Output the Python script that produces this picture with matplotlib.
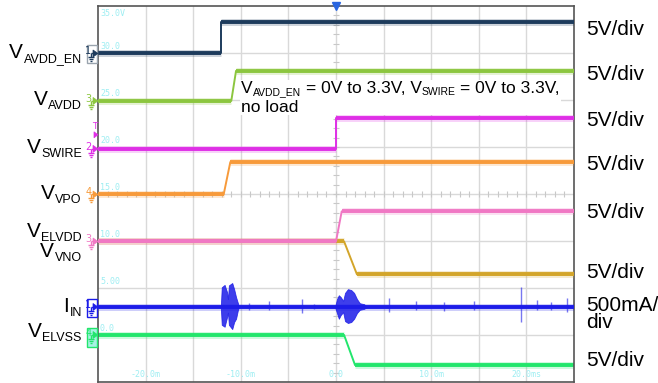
import numpy as np
import matplotlib
matplotlib.use("Agg")
import matplotlib.pyplot as plt
from matplotlib.transforms import Affine2D, ScaledTranslation, IdentityTransform
from matplotlib.patches import Polygon, Rectangle
from matplotlib.collections import LineCollection

plt.rcParams['font.family'] = ['Liberation Sans', 'DejaVu Sans']

# ---- screen scales ----
t_min, t_max = -25.0, 25.0          # ms, 5 ms/div
y_min, y_max = -5.0, 35.0           # screen volts, 5 V/div
x_grid_labels = ["-20.0m", "-10.0m", "0.0", "10.0m", "20.0ms"]
x_grid_label_pos = [-20.0, -10.0, 0.0, 10.0, 20.0]
y_grid_labels = ["35.0V", "30.0", "25.0", "20.0", "15.0", "10.0", "5.00", "0.0"]
y_grid_label_pos = [35.0, 30.0, 25.0, 20.0, 15.0, 10.0, 5.0, 0.0]

# ---- waveform breakpoints (time in ms, level in V) ----
avdd_en_t = [-25.0, -12.1, -12.1, 25.0]
avdd_en_v = [0.0, 0.0, 3.3, 3.3]
avdd_t = [-25.0, -11.0, -10.5, 25.0]
avdd_v = [0.0, 0.0, 3.2, 3.2]
swire_t = [-25.0, 0.0, 0.0, 25.0]
swire_v = [0.0, 0.0, 3.3, 3.3]
vpo_t = [-25.0, -11.8, -11.1, 25.0]
vpo_v = [0.0, 0.0, 3.45, 3.45]
elvdd_t = [-25.0, 0.0, 0.6, 25.0]
elvdd_v = [0.0, 0.0, 3.2, 3.2]
vno_t = [-25.0, 0.85, 2.2, 25.0]
vno_v = [0.0, 0.0, -3.5, -3.5]
elvss_t = [-25.0, 0.85, 2.0, 25.0]
elvss_v = [0.0, 0.0, -3.2, -3.2]

# input current (mA): baseline, two ringing bursts and isolated spikes
iin_t = [-25.0, 25.0]
iin_ma = [0.0, 0.0]
burst1_t = [-12.1, -12.0, -11.7, -11.45, -11.35, -11.25, -10.9, -10.7, -10.5, -10.3, -10.2]
burst1_hi = [0, 210, 235, 160, 85, 230, 255, 190, 105, 40, 0]
burst1_lo = [0, 190, 210, 110, 60, 190, 235, 160, 125, 30, 0]
burst2_t = [-0.1, 0.1, 0.3, 0.5, 0.75, 0.95, 1.25, 1.6, 1.9, 2.2, 2.5, 2.95, 3.25]
burst2_hi = [0, 85, 125, 105, 65, 150, 190, 180, 150, 85, 40, 30, 0]
burst2_lo = [0, 65, 125, 85, 55, 150, 170, 160, 125, 65, 30, 20, 0]
spike_t = [-9.1, -7.0, -3.6, -2.3, 5.6, 8.4, 11.3, 14.5, 19.4, 21.1, 22.6, 24.3]
spike_up = [40, 65, 85, 30, 95, 65, 55, 65, 210, 75, 55, 95]
spike_dn = [30, 30, 65, 20, 55, 30, 40, 30, 160, 30, 30, 55]

# ---- channel positions on screen (V) and colours ----
off_avdd_en, off_avdd, off_swire, off_vpo = 29.95, 24.9, 19.8, 14.95
off_elvdd, off_vno, off_iin, off_elvss = 9.95, 9.95, 2.98, 0.0
swire_trigger_level = 1.5           # V
iin_scale = 5.0 / 500.0             # screen V per mA (500 mA/div)

c_avdd_en = "#1d3b5c"
c_avdd = "#8cc63f"
c_swire = "#df2fe6"
c_vpo = "#f79a3a"
c_elvdd = "#f078c4"
c_vno = "#d3a52a"
c_iin = "#1c1ce8"
c_elvss = "#22e66c"
c_grid = "#d9d9d9"
c_gridtxt = "#9eeef2"

W, H = 658, 383
fig = plt.figure(figsize=(W / 100, H / 100), dpi=100)
ax = fig.add_axes([98 / W, 1 - 382 / H, 476 / W, 376 / H])
ax.set_xlim(t_min, t_max)
ax.set_ylim(y_min, y_max)
ax.set_xticks([])
ax.set_yticks([])
for sp in ax.spines.values():
    sp.set_color("#555555")
    sp.set_linewidth(1.2)
renderer = fig.canvas.get_renderer()

# graticule
for xg in np.arange(t_min + 5, t_max, 5.0):
    ax.axvline(xg, color=c_grid, lw=1.0, zorder=0)
for yg in np.arange(y_min + 5, y_max, 5.0):
    ax.axhline(yg, color=c_grid, lw=1.0, zorder=0)
ax.plot(np.arange(t_min + 1, t_max, 1.0), np.full(49, 15.0), ls="none",
        marker="|", ms=4, mew=0.8, color="#c8c8c8", zorder=0)
ax.plot(np.zeros(39), np.arange(y_min + 1, y_max, 1.0), ls="none",
        marker="_", ms=4, mew=0.8, color="#c8c8c8", zorder=0)

# grid labels
mono = dict(family="DejaVu Sans Mono", fontsize=6, color=c_gridtxt, zorder=1)
for lab, yv in zip(y_grid_labels, y_grid_label_pos):
    if yv == y_max:
        ax.annotate(lab, (t_min, yv), xytext=(2, -3), textcoords="offset pixels",
                    ha="left", va="top", **mono)
    else:
        ax.annotate(lab, (t_min, yv), xytext=(2, 2), textcoords="offset pixels",
                    ha="left", va="bottom", **mono)
for lab, xv in zip(x_grid_labels, x_grid_label_pos):
    ax.annotate(lab, (xv, y_min), xytext=(0, 3), textcoords="offset pixels",
                ha="center", va="bottom", **mono)


def draw_trace(t, v, off, color, z, scale=1.0):
    t = np.asarray(t, float)
    y = off + np.asarray(v, float) * scale
    ax.plot(t, y, color=color, lw=1.4, zorder=z)
    flat = np.isclose(y[:-1], y[1:])
    for i in np.where(flat)[0]:
        ax.plot(t[i:i + 2], y[i:i + 2], color=color, lw=5, alpha=0.22,
                solid_capstyle="butt", zorder=z)
        ax.plot(t[i:i + 2], y[i:i + 2], color=color, lw=2.8,
                solid_capstyle="butt", zorder=z)


# traces
draw_trace(elvss_t, elvss_v, off_elvss, c_elvss, 2)
draw_trace(iin_t, iin_ma, off_iin, c_iin, 3, iin_scale)
for bt, bh, bl in [(burst1_t, burst1_hi, burst1_lo), (burst2_t, burst2_hi, burst2_lo)]:
    bt = np.asarray(bt, float)
    ax.fill_between(bt, off_iin + np.asarray(bh) * iin_scale,
                    off_iin - np.asarray(bl) * iin_scale,
                    color=c_iin, lw=0.6, alpha=0.85, zorder=3)
ax.vlines(spike_t, off_iin - np.asarray(spike_dn) * iin_scale,
          off_iin + np.asarray(spike_up) * iin_scale,
          color=c_iin, lw=1.0, alpha=0.6, zorder=3)
draw_trace(vno_t, vno_v, off_vno, c_vno, 4)
draw_trace(elvdd_t, elvdd_v, off_elvdd, c_elvdd, 5)
draw_trace(vpo_t, vpo_v, off_vpo, c_vpo, 6)
draw_trace(swire_t, swire_v, off_swire, c_swire, 7)
draw_trace(avdd_t, avdd_v, off_avdd, c_avdd, 8)
draw_trace(avdd_en_t, avdd_en_v, off_avdd_en, c_avdd_en, 9)

# trigger position marker at top
ax.plot([0.0], [y_max], marker="v", ms=6, color="#2a66e0", clip_on=False, zorder=12)


def anchor(yv):
    # pixel coordinates relative to the left screen edge at level yv
    return Affine2D() + ScaledTranslation(0.0, yv, ax.get_yaxis_transform())


def channel_marker(yv, num, color, box=None):
    tr = anchor(yv)
    if box is not None:
        ec, fc, top, bot = box
        ax.add_patch(Rectangle((-11, bot), 10, top - bot, transform=tr,
                               fc=fc, ec=ec, lw=1.0, clip_on=False, zorder=10))
    ax.add_patch(Polygon([(-5, 3.5), (0, 0), (-5, -3.5)], closed=True, fc=color,
                         ec=color, lw=0.5, transform=tr, clip_on=False, zorder=11))
    segs = [[(-7, 0), (-4, 0)], [(-7, 0), (-7, -4)], [(-10, -4), (-4, -4)],
            [(-9, -6), (-5, -6)], [(-8, -8), (-6, -8)]]
    ax.add_collection(LineCollection(segs, colors=color, lw=1.0, transform=tr,
                                     clip_on=False, zorder=11))
    ax.text(-9.5, -1, num, transform=tr, fontsize=7, color=color, ha="center",
            va="baseline", family="DejaVu Sans", clip_on=False, zorder=11)


channel_marker(off_avdd_en, "1", c_avdd_en, box=("#9aa4ae", "none", 8.5, -9.5))
channel_marker(off_avdd, "3", c_avdd)
channel_marker(off_swire, "2", c_swire)
channel_marker(off_vpo, "4", c_vpo)
channel_marker(off_elvdd, "3", c_elvdd)
channel_marker(off_iin, "1", c_iin, box=(c_iin, "none", 8, -10))
channel_marker(off_elvss, "4", c_elvss, box=(c_elvss, "#a8f2e4", 7, -12))

# trigger level marker on the SWIRE channel
trg = anchor(off_swire + swire_trigger_level)
ax.add_patch(Polygon([(-4, 3), (0, 0), (-4, -3)], closed=True, fc=c_swire, ec=c_swire,
                     lw=0.5, transform=trg, clip_on=False, zorder=11))
ax.text(-3, 6, "T", transform=trg, fontsize=6.5, color=c_swire, ha="center",
        va="baseline", family="DejaVu Sans", clip_on=False, zorder=11)


def rich_text(x, y, pieces, ha="left", zorder=20):
    """Draw a run of text pieces (text, size, baseline shift px, gap px)
    starting (or ending) at display point (x, y)."""
    arts = []
    for s, size, dy, gap in pieces:
        t = fig.text(0, 0, s, fontsize=size, transform=IdentityTransform(),
                     ha="left", va="baseline", color="black", zorder=zorder)
        arts.append((t, dy, gap, t.get_window_extent(renderer).width))
    total = sum(w + g for _, _, g, w in arts)
    x0 = x - total if ha == "right" else x
    for t, dy, gap, w in arts:
        x0 += gap
        t.set_position((x0, y + dy))
        x0 += w
    return x - total if ha == "right" else x, total


def to_px(xv, yv, trans):
    return trans.transform((xv, yv))


ytr = ax.get_yaxis_transform()

# channel names on the left: (main, subscript)
names = [("V", "AVDD_EN"), ("V", "AVDD"), ("V", "SWIRE"), ("V", "VPO"),
         ("V", "ELVDD"), ("V", "VNO"), ("I", "IN"), ("V", "ELVSS")]
name_y = [29.47, 24.47, 19.36, 14.47, 10.43, 8.30, 2.45, -0.21]
for (m, s), yv in zip(names, name_y):
    px, py = to_px(-0.034, yv, ytr)
    rich_text(px, py, [(m, 15, 0, 0), (s, 9, -4, 0.5)], ha="right")

# scale settings on the right
scales = ["5V/div", "5V/div", "5V/div", "5V/div", "5V/div", "5V/div", "500mA/", "div", "5V/div"]
scale_y = [31.9, 27.1, 22.2, 17.6, 12.5, 6.1, 2.6, 0.7, -3.3]
for s, yv in zip(scales, scale_y):
    ax.text(1.025, yv, s, transform=ytr, ha="left", va="baseline",
            fontsize=15, color="black", clip_on=False)

# test condition note on a white backing (behind the traces, over the grid)
note_x = -10.0
note_y1, note_y2 = 25.74, 23.72
px1, py1 = to_px(note_x, note_y1, ax.transData)
px2, py2 = to_px(note_x, note_y2, ax.transData)
_, w1 = rich_text(px1, py1, [("V", 12.5, 0, 0), ("AVDD_EN", 7.5, -2, 0.5),
                             ("= 0V to 3.3V, V", 12.5, 0, 4.5), ("SWIRE", 7.5, -2, 0.5),
                             ("= 0V to 3.3V,", 12.5, 0, 4.5)])
_, w2 = rich_text(px2, py2, [("no load", 12.5, 0, 0)])
ax.add_patch(Rectangle((px1 - 1, py2 - 3), max(w1, w2) + 2, (py1 - py2) + 16,
                       transform=IdentityTransform(), fc="white", ec="none",
                       zorder=1.5))

fig.savefig("out.png", dpi=100, facecolor="white")
